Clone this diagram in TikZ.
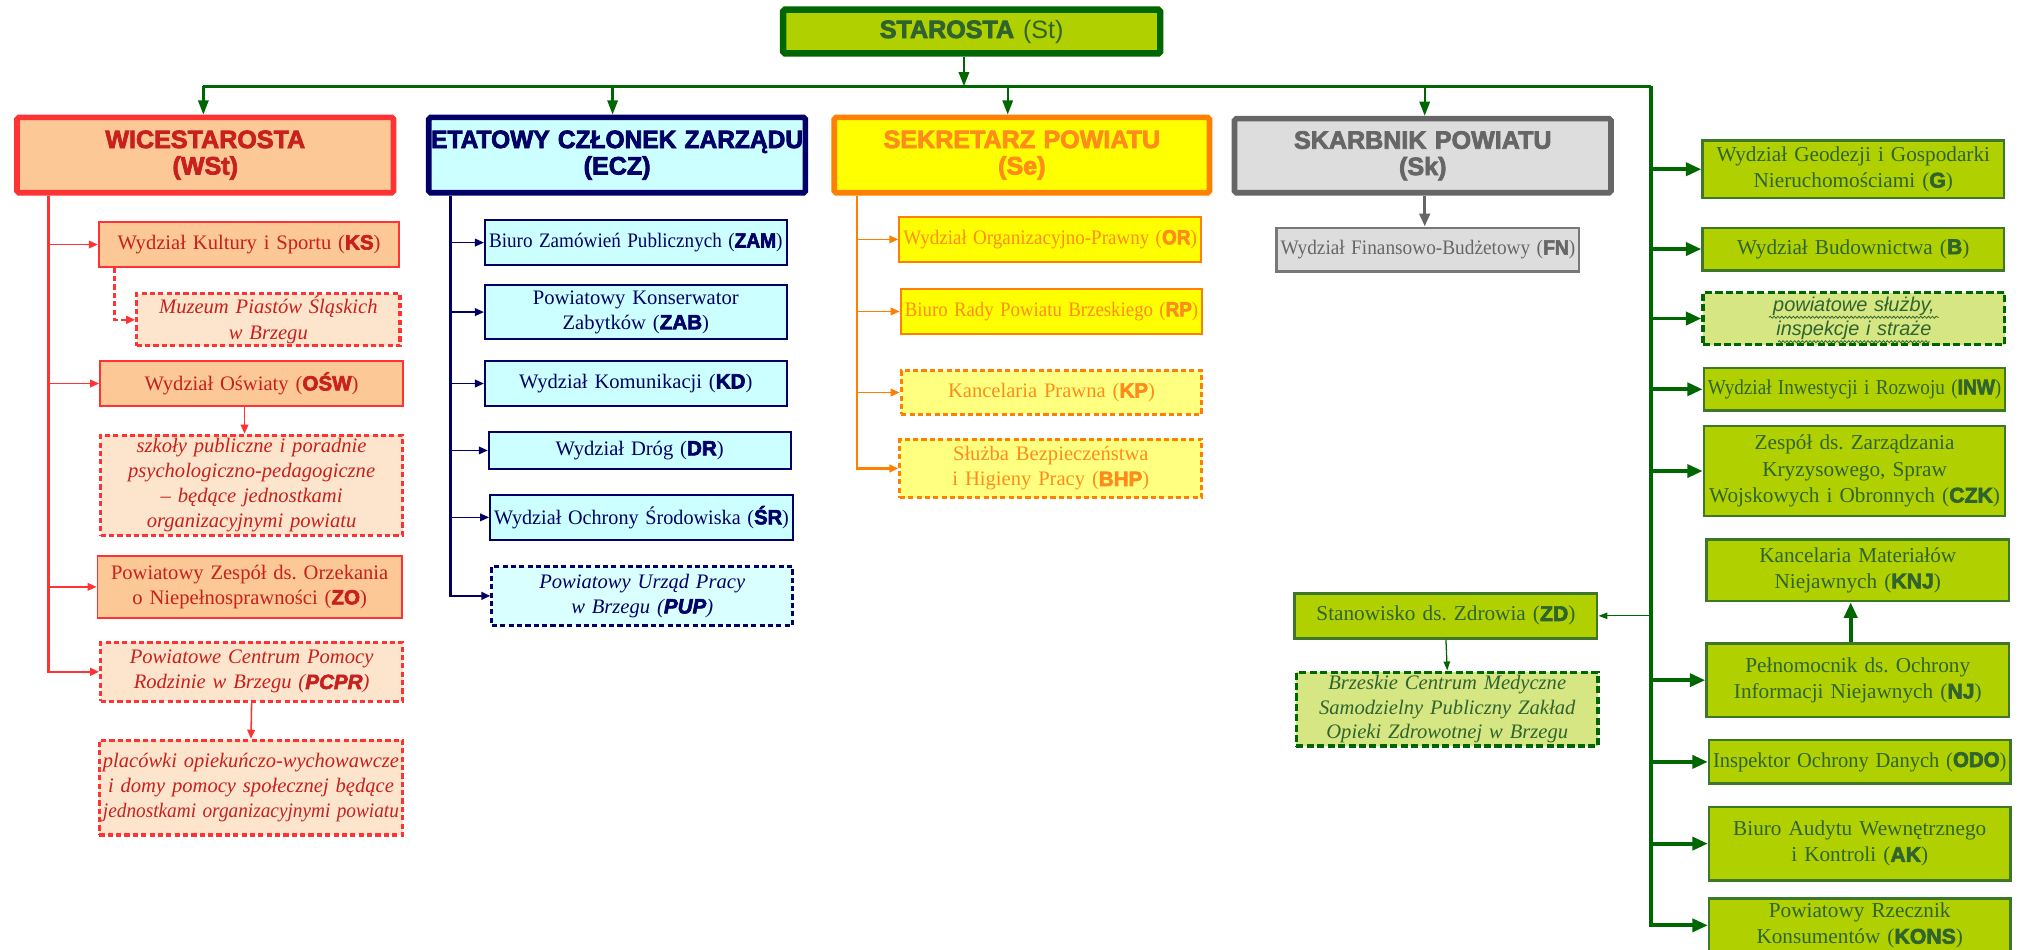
\documentclass[tikz,border=0pt]{standalone}
\usepackage{fontspec}
\usepackage{graphicx}
\setmainfont{Liberation Serif}
\newfontfamily\sansf{Liberation Sans}[BoldFeatures={FakeBold=3},BoldItalicFeatures={FakeBold=3}]
\usetikzlibrary{arrows.meta,calc,decorations.pathmorphing}
\definecolor{redL}{RGB}{255,51,51}
\definecolor{redT}{RGB}{200,32,28}
\definecolor{peach}{RGB}{252,200,150}
\definecolor{peachL}{RGB}{253,228,204}
\definecolor{navy}{RGB}{0,0,102}
\definecolor{cyanF}{RGB}{204,255,255}
\definecolor{cyanL}{RGB}{218,255,255}
\definecolor{orgL}{RGB}{255,128,0}
\definecolor{orgT}{RGB}{255,140,26}
\definecolor{yel}{RGB}{255,255,0}
\definecolor{yelL}{RGB}{255,255,128}
\definecolor{grayL}{RGB}{102,102,102}
\definecolor{grayM}{RGB}{120,120,120}
\definecolor{grayF}{RGB}{221,221,221}
\definecolor{gLine}{RGB}{0,102,0}
\definecolor{gFill}{RGB}{176,208,0}
\definecolor{gFillL}{RGB}{214,230,130}
\definecolor{gText}{RGB}{47,100,47}
\definecolor{gBorder}{RGB}{60,120,40}
\newsavebox\fitbox
\newcommand\fitl[1]{\sbox\fitbox{#1}\ifdim\wd\fitbox>\hsize\resizebox{\hsize}{\height}{\usebox\fitbox}\else\usebox\fitbox\fi}
\newcommand\abb[1]{{\sansf\bfseries #1}}
\begin{document}
\frenchspacing
\begin{tikzpicture}[x=1pt,y=-1pt,
  bwl/.code={\def\lwsub{#1}},
  sz/.style 2 args={/utils/exec={\pgfmathsetmacro\bxw{#1-\lwsub}\pgfmathsetmacro\bxh{#2-\lwsub}\pgfmathsetmacro\bxt{#1-8}},
     minimum width=\bxw pt, minimum height=\bxh pt, text width=\bxt pt},
  every node/.style={inner sep=0pt, align=center},
  base/.style={draw, rectangle},
  hd/.style={base, bwl=4.4, line width=4.4pt, rounded corners=1.5pt, font=\fontsize{19.5}{20.5}\selectfont\sansf\bfseries},
  stbox/.style={hd, draw=gLine, line width=5pt, bwl=5, fill=gFill, text=gText},
  hdR/.style={hd, draw=redL, fill=peach, text=redT},
  hdN/.style={hd, draw=navy, fill=cyanF, text=navy},
  hdO/.style={hd, draw=orgL, fill=yel, text=orgT},
  hdG/.style={hd, draw=grayL, fill=grayF, text=grayL},
  sub/.style={base, line width=1.5pt, bwl=1.5, font=\fontsize{16}{19.5}\selectfont},
  dsh/.style={base, line width=2.4pt, bwl=2.4, dash pattern=on 4pt off 2.5pt, font=\fontsize{16}{19.5}\selectfont},
  rsol/.style={sub, draw=redL, fill=peach, text=redT},
  rdsh/.style={dsh, draw=redL, fill=peachL, text=redT, font=\fontsize{16}{19.5}\selectfont\itshape},
  nsol/.style={sub, draw=navy, fill=cyanF, text=navy},
  ndsh/.style={dsh, draw=navy, fill=cyanL, text=navy, font=\fontsize{16}{19.5}\selectfont\itshape},
  osol/.style={sub, draw=orgL, fill=yel, text=orgT},
  odsh/.style={dsh, draw=orgL, fill=yelL, text=orgT},
  gysol/.style={sub, draw=grayM, fill=grayF, text=grayL, line width=2pt, bwl=2},
  gsol/.style={base, line width=2pt, bwl=2, draw=gBorder, fill=gFill, text=gText, font=\fontsize{16.5}{20.5}\selectfont},
  gdsh/.style={dsh, line width=2.6pt, bwl=2.6, dash pattern=on 5.5pt off 2.6pt, draw=gLine, fill=gFillL, text=gText, font=\fontsize{16}{19}\selectfont\itshape},
  gpow/.style={gdsh, font=\fontsize{15.5}{19}\selectfont\sansf\itshape},
  wavy/.style={draw=gText, line width=0.6pt, decorate, decoration={snake, amplitude=0.8pt, segment length=3pt}},
  rtr/.style={draw=redL, line width=2pt, -{Triangle[length=7pt,width=6pt]}},
  rar/.style={draw=redL, line width=1.2pt, -{Triangle[length=7pt,width=6pt]}},
  rdar/.style={draw=redL, line width=2pt, dash pattern=on 4pt off 2.5pt, -{Triangle[length=7pt,width=6pt]}},
  ntr/.style={draw=navy, line width=2pt, -{Triangle[length=7pt,width=6pt]}},
  nar/.style={draw=navy, line width=1.2pt, -{Triangle[length=7pt,width=6pt]}},
  otr/.style={draw=orgL, line width=2pt, -{Triangle[length=7pt,width=6pt]}},
  oar/.style={draw=orgL, line width=1.2pt, -{Triangle[length=7pt,width=6pt]}},
  gbus/.style={draw=gLine, line width=2pt},
  gar/.style={draw=gLine, line width=1.8pt, -{Triangle[length=11pt,width=8pt]}},
  gtr/.style={draw=gLine, line width=3pt, -{Triangle[length=12pt,width=10pt]}},
  gth/.style={draw=gLine, line width=1pt, -{Triangle[length=7pt,width=5pt]}},
  gyar/.style={draw=grayL, line width=2.5pt, -{Triangle[length=10pt,width=8pt]}}
]
\useasboundingbox (0,0) rectangle (1568,738);
\clip (0,0) rectangle (1568,738);

% top level
\node[stbox, sz={298}{39}] (ST) at (755,24.5) {STAROSTA\hspace{7pt}{\mdseries (St)}};
\node[hdR, sz={297}{63}] (WICE) at (159.5,120.5) {\fitl{WICESTAROSTA}\\(WSt)};
\node[hdN, sz={297}{63}] (ECZ) at (479.5,120.5) {\fitl{ETATOWY CZŁONEK ZARZĄDU}\\(ECZ)};
\node[hdO, sz={296}{63}] (SEK) at (794,120.5) {\fitl{SEKRETARZ POWIATU}\\(Se)};
\node[hdG, sz={297}{62}] (SKA) at (1105.5,121) {\fitl{SKARBNIK POWIATU}\\(Sk)};

% left column (red)
\node[rsol, sz={235}{36}] (KS) at (193.5,190) {\fitl{Wydział Kultury i Sportu (\abb{KS})}};
\node[rdsh, sz={207}{43}] (MUZ) at (208.5,248.5) {\fitl{Muzeum Piastów Śląskich}\\ w Brzegu};
\node[rsol, sz={237}{36}] (OSW) at (195.5,298) {\fitl{Wydział Oświaty (\abb{OŚW})}};
\node[rdsh, sz={237}{80}] (SZK) at (195.5,377) {szkoły publiczne i poradnie\\ \fitl{psychologiczno-pedagogiczne}\\ – będące jednostkami\\ organizacyjnymi powiatu};
\node[rsol, sz={238}{50}] (ZO) at (194,456) {\fitl{Powiatowy Zespół ds. Orzekania}\\ \fitl{o Niepełnosprawności (\abb{ZO})}};
\node[rdsh, sz={237}{48}] (PCPR) at (195.5,522) {Powiatowe Centrum Pomocy\\ \fitl{Rodzinie w Brzegu (\abb{PCPR})}};
\node[rdsh, sz={238}{76}] (PLAC) at (195,612) {\fitl{placówki opiekuńczo-wychowawcze}\\ \fitl{i domy pomocy społecznej będące}\\ \fitl{jednostkami organizacyjnymi powiatu}};

% navy column
\node[nsol, sz={236}{37}] (ZAM) at (494,188.5) {\fitl{Biuro Zamówień Publicznych (\abb{ZAM})}};
\node[nsol, sz={236}{43}] (ZAB) at (494,242.5) {Powiatowy Konserwator\\ Zabytków (\abb{ZAB})};
\node[nsol, sz={236}{36}] (KD) at (494,298) {\fitl{Wydział Komunikacji (\abb{KD})}};
\node[nsol, sz={236}{30}] (DR) at (497,350) {Wydział Dróg (\abb{DR})};
\node[nsol, sz={237}{36}] (SR) at (498.5,402) {\fitl{Wydział Ochrony Środowiska (\abb{ŚR})}};
\node[ndsh, sz={236}{48}] (PUP) at (499,463) {Powiatowy Urząd Pracy\\ w Brzegu (\abb{PUP})};

% orange column
\node[osol, sz={236}{36}] (OR) at (816,186) {\fitl{Wydział Organizacyjno-Prawny (\abb{OR})}};
\node[osol, sz={236}{36}] (RP) at (817,242) {\fitl{Biuro Rady Powiatu Brzeskiego (\abb{RP})}};
\node[odsh, sz={236}{36}] (KP) at (817,305) {Kancelaria Prawna (\abb{KP})};
\node[odsh, sz={237}{48}] (BHP) at (816.5,364) {Służba Bezpieczeństwa\\ i Higieny Pracy (\abb{BHP})};

% gray
\node[gysol, sz={237}{36}] (FN) at (1109.5,194) {\fitl{Wydział Finansowo-Budżetowy (\abb{FN})}};

% green column
\node[gsol, sz={236}{47}] (G) at (1440,131.5) {\fitl{Wydział Geodezji i Gospodarki}\\ Nieruchomościami (\abb{G})};
\node[gsol, sz={236}{35}] (B) at (1440,193.5) {Wydział Budownictwa (\abb{B})};
\node[gpow, sz={237}{43}] (POW) at (1440.5,247.5) {powiatowe służby,\\ inspekcje i straże};
\node[gsol, sz={236}{35}] (INW) at (1441,302.5) {\fitl{Wydział Inwestycji i Rozwoju (\abb{INW})}};
\node[gsol, sz={236}{72}] (CZK) at (1441,366) {Zespół ds. Zarządzania\\ Kryzysowego, Spraw\\ \fitl{Wojskowych i Obronnych (\abb{CZK})}};
\node[gsol, sz={237}{50}] (KNJ) at (1443.5,443) {Kancelaria Materiałów\\ Niejawnych (\abb{KNJ})};
\node[gsol, sz={237}{37}] (ZD) at (1123.5,478.5) {\fitl{Stanowisko ds. Zdrowia (\abb{ZD})}};
\node[gdsh, sz={237}{60}] (BCM) at (1124.5,551) {Brzeskie Centrum Medyczne\\ \fitl{Samodzielny Publiczny Zakład}\\ \fitl{Opieki Zdrowotnej w Brzegu}};
\node[gsol, sz={237}{59}] (NJ) at (1443.5,528.5) {Pełnomocnik ds. Ochrony\\ \fitl{Informacji Niejawnych (\abb{NJ})}};
\node[gsol, sz={236}{36}] (ODO) at (1445,592) {\fitl{Inspektor Ochrony Danych (\abb{ODO})}};
\node[gsol, sz={236}{59}] (AK) at (1445,655.5) {\fitl{Biuro Audytu Wewnętrznego}\\ i Kontroli (\abb{AK})};
\node[gsol, sz={236}{44}] (KONS) at (1445,719) {Powiatowy Rzecznik\\ Konsumentów (\abb{KONS})};

% wavy underlines (spell-check marks shown in the picture)
\draw[wavy] ($(POW.center)+(-66,-1)$) -- ($(POW.center)+(66,-1)$);
\draw[wavy] ($(POW.center)+(-59,18)$) -- ($(POW.center)+(59,18)$);

% helper coordinates
\coordinate (bus) at (0,67);
\coordinate (rt) at (37.5,0);
\coordinate (nt) at (350,0);
\coordinate (ot) at (666,0);
\coordinate (gt) at (1283,0);

% green top connectors
\draw[gar] ($(ST.south)+(-6,0)$) -- ($(ST.south |- bus)+(-6,0)$);
\draw[gbus] ($(WICE.north |- bus)+(-1.5,0)$) -- (gt |- bus);
\draw[gar] ($(WICE.north |- bus)+(-1.5,0)$) -- ($(WICE.north)+(-1.5,0)$);
\draw[gar] ($(ECZ.north |- bus)+(-3.5,0)$) -- ($(ECZ.north)+(-3.5,0)$);
\draw[gar] ($(SEK.north |- bus)+(-11,0)$) -- ($(SEK.north)+(-11,0)$);
\draw[gar] ($(SKA.north |- bus)+(1.5,0)$) -- ($(SKA.north)+(1.5,0)$);
\draw[gtr] (gt |- bus) |- (KONS.west);
\foreach \n in {G,B,POW,INW,CZK,NJ,ODO,AK} \draw[gtr] (gt |- \n.west) -- (\n.west);
\draw[gth] (gt |- ZD.east) -- (ZD.east);
\draw[gth] (ZD.south) -- (BCM.north);
\draw[gtr] ($(NJ.north)+(-5.5,0)$) -- ($(KNJ.south)+(-5.5,0)$);

% red connectors
\draw[rtr] (rt |- WICE.south) |- (PCPR.west);
\foreach \n in {KS,OSW,ZO} \draw[rar] (rt |- \n.west) -- (\n.west);
\draw[rdar] ($(KS.south west)+(13,0)$) |- (MUZ.west);
\draw[rar] ($(OSW.south)+(-5.5,0)$) -- ($(SZK.north)+(-5.5,0)$);
\draw[rar] (PCPR.south) -- (PLAC.north);

% navy connectors
\draw[ntr] (nt |- ECZ.south) |- (PUP.west);
\foreach \n in {ZAM,ZAB,KD,DR,SR} \draw[nar] (nt |- \n.west) -- (\n.west);

% orange connectors
\draw[otr] (ot |- SEK.south) |- (BHP.west);
\foreach \n in {OR,RP,KP} \draw[oar] (ot |- \n.west) -- (\n.west);

% gray connector
\draw[gyar] ($(SKA.south)+(1.5,0)$) -- ($(SKA.south |- FN.north)+(1.5,0)$);
\end{tikzpicture}
\end{document}
